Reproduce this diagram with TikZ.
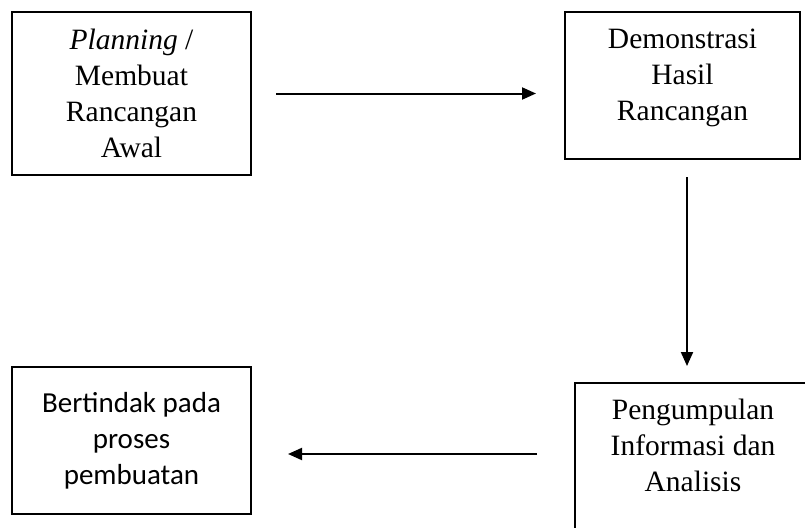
\documentclass[tikz,border=0pt]{standalone}
\usepackage{fontspec}
\setmainfont{Liberation Serif}
\newfontfamily\calibri{Carlito}
\usetikzlibrary{arrows.meta}

\begin{document}
\begin{tikzpicture}[x=1pt,y=-1pt,>={Triangle[length=14pt,width=12pt]},
  box/.style={draw,line width=2pt,inner sep=0pt},
  txt/.style={align=center,font=\fontsize{29.5}{36}\selectfont},
  sanstxt/.style={align=center,font=\calibri\fontsize{29}{36}\selectfont}]
\useasboundingbox (0,0) rectangle (805,527);
\clip (0,0) rectangle (805,527);
\node[box,txt,minimum width=239pt,minimum height=163pt] (plan) at (131.5,93.5)
  {\textit{Planning} /\\Membuat\\Rancangan\\Awal};
\node[box,minimum width=235pt,minimum height=147pt,
  label={[txt,yshift=8pt]center:Demonstrasi\\Hasil\\Rancangan}] (demo) at (682.5,85.5) {};
\node[box,minimum width=236pt,minimum height=177pt,
  label={[txt,yshift=26pt]center:Pengumpulan\\Informasi dan\\Analisis}] (info) at (693,471.5) {};
\node[box,sanstxt,minimum width=239pt,minimum height=147pt] (act) at (131.5,440.5)
  {Bertindak pada\\proses\\pembuatan};
\draw[->,line width=2pt,shorten <=24pt,shorten >=28pt](plan.east)--(plan.east-|demo.west);
\draw[->,line width=2pt,shorten <=17pt,shorten >=16pt]([xshift=4.5pt]demo.south)--([xshift=4.5pt]demo.south|-info.north);
\draw[->,line width=2pt,shorten <=37pt,shorten >=36pt]([yshift=-13.5pt]act.east-|info.west)--([yshift=-13.5pt]act.east);
\end{tikzpicture}
\end{document}
